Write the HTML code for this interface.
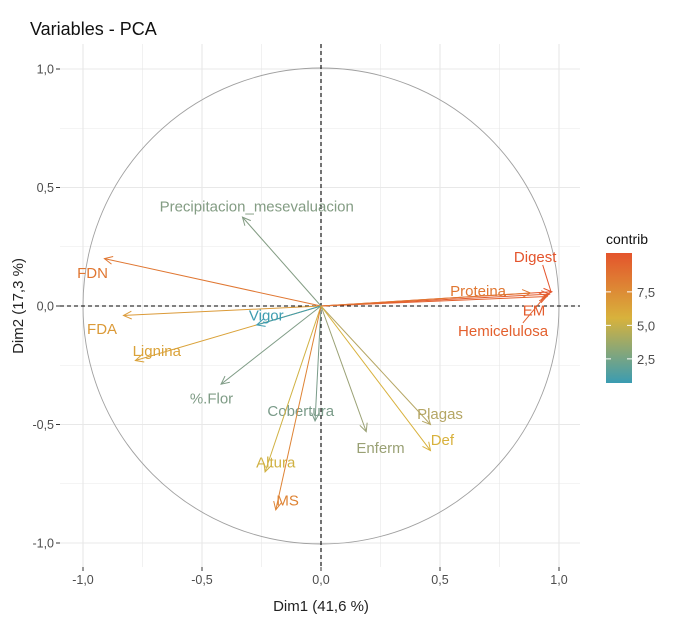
<!DOCTYPE html>
<html><head><meta charset="utf-8"><style>
body{margin:0;background:#fff;font-family:"Liberation Sans",sans-serif}
svg text{font-family:"Liberation Sans",sans-serif}
</style></head><body>
<svg id="chart" width="675" height="625" xmlns="http://www.w3.org/2000/svg">
<defs>
<linearGradient id="cg" x1="0" y1="1" x2="0" y2="0">
<stop offset="0" stop-color="#3a9cb2"/><stop offset="0.5" stop-color="#d8b23c"/><stop offset="1" stop-color="#e4542c"/>
</linearGradient>
</defs>
<text x="30" y="35" font-size="18" fill="#111">Variables - PCA</text>
<g id="grid"></g>
<g id="marks"></g>
<text x="321" y="611" font-size="15" fill="#222" text-anchor="middle">Dim1 (41,6 %)</text>
<text transform="translate(23,306) rotate(-90)" font-size="15" fill="#222" text-anchor="middle">Dim2 (17,3 %)</text>
<g>
<text x="606" y="244" font-size="14" fill="#111">contrib</text>
<rect x="606" y="253" width="26" height="130" fill="url(#cg)"/>
<g id="legticks"></g>
</g>
</svg>
<script>
const vars=["Digest","EM","Hemicelulosa","Proteina","FDN","FDA","Lignina","Vigor","%.Flor","Precipitacion_mesevaluacion","Cobertura","Altura","MS","Enferm","Plagas","Def"];
const dim1=[0.97,0.96,0.95,0.88,-0.91,-0.83,-0.78,-0.27,-0.42,-0.33,-0.025,-0.235,-0.19,0.19,0.46,0.46];
const dim2=[0.06,0.05,0.04,0.055,0.20,-0.04,-0.23,-0.08,-0.33,0.375,-0.485,-0.70,-0.86,-0.53,-0.50,-0.61];
const contrib=[10.4,10.0,9.8,8.6,8.6,6.8,6.4,0.8,2.6,2.8,2.4,5.3,8.0,3.8,5.0,5.6];
const labelX=[0.90,0.895,0.765,0.66,-0.96,-0.92,-0.69,-0.23,-0.46,-0.27,-0.085,-0.19,-0.14,0.25,0.50,0.51];
const labelY=[0.207,-0.02,-0.105,0.063,0.14,-0.097,-0.19,-0.04,-0.39,0.42,-0.443,-0.66,-0.82,-0.60,-0.455,-0.565];
const connect=[true,true,true,false,false,false,false,false,false,false,false,false,false,false,false,false];
const ticks=[-1,-0.5,0,0.5,1];
const tickLabels=["-1,0","-0,5","0,0","0,5","1,0"];
const legTicks=[2.5,5,7.5];
const legLabels=["2,5","5,0","7,5"];
const NS="http://www.w3.org/2000/svg";
const X=v=>321+v*238, Y=v=>306-v*237;
const L0=60,L1=580,T0=44,T1=567;
function mk(tag,attrs,parent){const e=document.createElementNS(NS,tag);for(const k in attrs)e.setAttribute(k,attrs[k]);parent.appendChild(e);return e;}
const grid=document.getElementById('grid'),marks=document.getElementById('marks');
[-1,-0.75,-0.5,-0.25,0,0.25,0.5,0.75,1].forEach(v=>{
 const w=(v*4)%2===0?1.1:0.6;
 let l=mk('line',{x1:X(v),x2:X(v),y1:T0,y2:T1,stroke:'#e8e8e8','stroke-width':w},grid);
 
 l=mk('line',{x1:L0,x2:L1,y1:Y(v),y2:Y(v),stroke:'#e8e8e8','stroke-width':w},grid);
 
});
ticks.forEach((v,i)=>{
 let t=mk('line',{x1:X(v),x2:X(v),y1:T1,y2:T1+4,stroke:'#333'},grid);
 
 let tx=mk('text',{x:X(v),y:T1+17,'font-size':12.5,fill:'#4d4d4d','text-anchor':'middle'},grid);tx.textContent=tickLabels[i];
 
 t=mk('line',{x1:L0-4,x2:L0,y1:Y(v),y2:Y(v),stroke:'#333'},grid);
 
 tx=mk('text',{x:L0-6,y:Y(v)+4.5,'font-size':12.5,fill:'#4d4d4d','text-anchor':'end'},grid);tx.textContent=tickLabels[i];
 
});
let c=mk('circle',{cx:X(0),cy:Y(0),r:238,fill:'none',stroke:'#a0a0a0','stroke-width':0.9},marks);

let h=mk('line',{x1:L0,x2:L1,y1:Y(0),y2:Y(0),stroke:'#000','stroke-dasharray':'4,3','stroke-width':1.1},marks);

h=mk('line',{x1:X(0),x2:X(0),y1:T0,y2:T1,stroke:'#000','stroke-dasharray':'4,3','stroke-width':1.1},marks);

function hex(c){return [parseInt(c.slice(1,3),16),parseInt(c.slice(3,5),16),parseInt(c.slice(5,7),16)];}
const lo=hex('#3a9cb2'),mid=hex('#d8b23c'),hi=hex('#e4542c');const cmin=0.7,cmax=10.4;
function col(v){let t=Math.max(0,Math.min(1,(v-cmin)/(cmax-cmin)));let a,b,u;if(t<0.5){a=lo;b=mid;u=t/0.5}else{a=mid;b=hi;u=(t-0.5)/0.5}
 let rgb=a.map((x,i)=>x+(b[i]-x)*u);const g=(rgb[0]+rgb[1]+rgb[2])/3;
 if(t>0.05&&t<0.45){rgb=rgb.map(x=>x+(g-x)*0.35);}
 return 'rgb('+rgb.map(Math.round).join(',')+')';}
vars.forEach((name,i)=>{
 const cl=col(contrib[i]);const x2=X(dim1[i]),y2=Y(dim2[i]);
 const g=mk('g',{},marks);
 
 
 mk('line',{x1:X(0),y1:Y(0),x2:x2,y2:y2,stroke:cl,'stroke-width':1},g);
 const ang=Math.atan2(y2-Y(0),x2-X(0)),al=9,sp=0.45;
 mk('polyline',{points:(x2-al*Math.cos(ang-sp))+','+(y2-al*Math.sin(ang-sp))+' '+x2+','+y2+' '+(x2-al*Math.cos(ang+sp))+','+(y2-al*Math.sin(ang+sp)),fill:'none',stroke:cl,'stroke-width':1},g);
 const lx=X(labelX[i]),ly=Y(labelY[i]);
 if(connect[i]){const dy=ly<y2?8:-8;const ex=lx+(x2-lx)*0.25;mk('line',{x1:x2-(x2-lx>0?(x2-lx)*0.05:0),y1:y2+(dy<0?0:0),x2:lx+(x2-lx)*0.45,y2:ly+dy,stroke:cl,'stroke-width':1},g);}
 const t=mk('text',{x:lx,y:ly+5,'font-size':15,fill:cl,'text-anchor':'middle'},g);t.textContent=name;
});
const lt=document.getElementById('legticks');const LB=383,LT=253;
const LY=v=>LB-(v-cmin)/(cmax-cmin)*(LB-LT);
legTicks.forEach((v,i)=>{
 mk('line',{x1:606,x2:611,y1:LY(v),y2:LY(v),stroke:'#fff'},lt);
 mk('line',{x1:627,x2:632,y1:LY(v),y2:LY(v),stroke:'#fff'},lt);
 const t=mk('text',{x:637,y:LY(v)+5,'font-size':13,fill:'#4d4d4d'},lt);t.textContent=legLabels[i];
 
});
</script>
</body></html>
